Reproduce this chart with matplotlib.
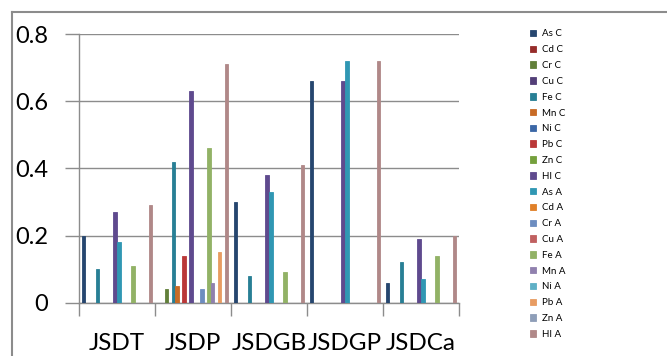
import matplotlib
matplotlib.use("Agg")
import matplotlib.pyplot as plt
from matplotlib.lines import Line2D
import numpy as np

plt.rcParams['font.family'] = ['Lato', 'DejaVu Sans']

categories = ["JSDT", "JSDP", "JSDGB", "JSDGP", "JSDCa"]
series_names = ["As C", "Cd C", "Cr C", "Cu C", "Fe C", "Mn C", "Ni C", "Pb C", "Zn C", "HI C",
                "As A", "Cd A", "Cr A", "Cu A", "Fe A", "Mn A", "Ni A", "Pb A", "Zn A", "HI A"]

as_c = [0.20, 0.00, 0.30, 0.66, 0.06]
cd_c = [0.00, 0.00, 0.00, 0.00, 0.00]
cr_c = [0.00, 0.04, 0.00, 0.00, 0.00]
cu_c = [0.00, 0.00, 0.00, 0.00, 0.00]
fe_c = [0.10, 0.42, 0.08, 0.00, 0.12]
mn_c = [0.00, 0.05, 0.00, 0.00, 0.00]
ni_c = [0.00, 0.00, 0.00, 0.00, 0.00]
pb_c = [0.00, 0.14, 0.00, 0.00, 0.00]
zn_c = [0.00, 0.00, 0.00, 0.00, 0.00]
hi_c = [0.27, 0.63, 0.38, 0.66, 0.19]
as_a = [0.18, 0.00, 0.33, 0.72, 0.07]
cd_a = [0.00, 0.00, 0.00, 0.00, 0.00]
cr_a = [0.00, 0.04, 0.00, 0.00, 0.00]
cu_a = [0.00, 0.00, 0.00, 0.00, 0.00]
fe_a = [0.11, 0.46, 0.09, 0.00, 0.14]
mn_a = [0.00, 0.06, 0.00, 0.00, 0.00]
ni_a = [0.00, 0.00, 0.00, 0.00, 0.00]
pb_a = [0.00, 0.15, 0.00, 0.00, 0.00]
zn_a = [0.00, 0.00, 0.00, 0.00, 0.00]
hi_a = [0.29, 0.71, 0.41, 0.72, 0.20]

series_values = [as_c, cd_c, cr_c, cu_c, fe_c, mn_c, ni_c, pb_c, zn_c, hi_c,
                 as_a, cd_a, cr_a, cu_a, fe_a, mn_a, ni_a, pb_a, zn_a, hi_a]

colors = ["#26466F", "#962C2A", "#62803A", "#533F78", "#287F95", "#C86B26",
          "#3B67A6", "#BA3838", "#74A03C", "#5F4A8E", "#3097B3", "#E08028",
          "#6D8DC0", "#C06060", "#92B266", "#9080AE", "#5FB0C6", "#E89C62",
          "#8E9EB8", "#B08888"]

y_ticks = [0, 0.2, 0.4, 0.6, 0.8]
y_tick_labels = ["0", "0.2", "0.4", "0.6", "0.8"]

fig = plt.figure(figsize=(6.67, 3.56), dpi=100)
ax = fig.add_axes([79/667, 53.3/356, 380/667, 268.7/356])

n = len(series_names)
gap = 1.5
w = 1.0 / (n + gap)
x = np.arange(len(categories))
handles = []
for j, (name, vals, c) in enumerate(zip(series_names, series_values, colors)):
    offs = -0.5 + (gap / 2 + j + 0.5) * w
    b = ax.bar(x + offs, vals, width=w, color=c, edgecolor=c, linewidth=0.6,
               label=name, zorder=3)
    handles.append(b)

ax.set_xlim(-0.5, len(categories) - 0.5)
ax.set_ylim(0, 0.8)
ax.set_yticks(y_ticks)
ax.set_yticklabels(y_tick_labels, fontsize=17)
ax.yaxis.grid(True, color="#8c8c8c", linewidth=1.0, zorder=0)
ax.set_axisbelow(True)

ax.set_xticks(x)
ax.set_xticklabels(categories, fontsize=17.5)
ax.set_xticks(np.arange(len(categories) + 1) - 0.5, minor=True)
ax.tick_params(axis='x', which='major', length=0, pad=22)
ax.tick_params(axis='x', which='minor', length=9, width=1, color="#8c8c8c")
ax.tick_params(axis='y', length=10, width=1, color="#8c8c8c", pad=12)

for s in ['top', 'right']:
    ax.spines[s].set_visible(False)
for s in ['left', 'bottom']:
    ax.spines[s].set_color("#8c8c8c")
    ax.spines[s].set_linewidth(1.0)

leg = fig.legend(handles=handles, labels=series_names, loc='upper left',
                 bbox_to_anchor=(530/667, 1 - 29.5/356), frameon=False,
                 fontsize=7, handlelength=0.65, handleheight=0.65,
                 handletextpad=0.55, labelspacing=0.70, borderpad=0,
                 borderaxespad=0)

# chart area border
fig.add_artist(Line2D([11.5/667, 11.5/667], [0, 1 - 11.5/356],
                      transform=fig.transFigure, color="#8c8c8c", linewidth=1.5))
fig.add_artist(Line2D([11.5/667, 1], [1 - 11.5/356, 1 - 11.5/356],
                      transform=fig.transFigure, color="#8c8c8c", linewidth=1.5))

fig.savefig("out.png", dpi=100)
